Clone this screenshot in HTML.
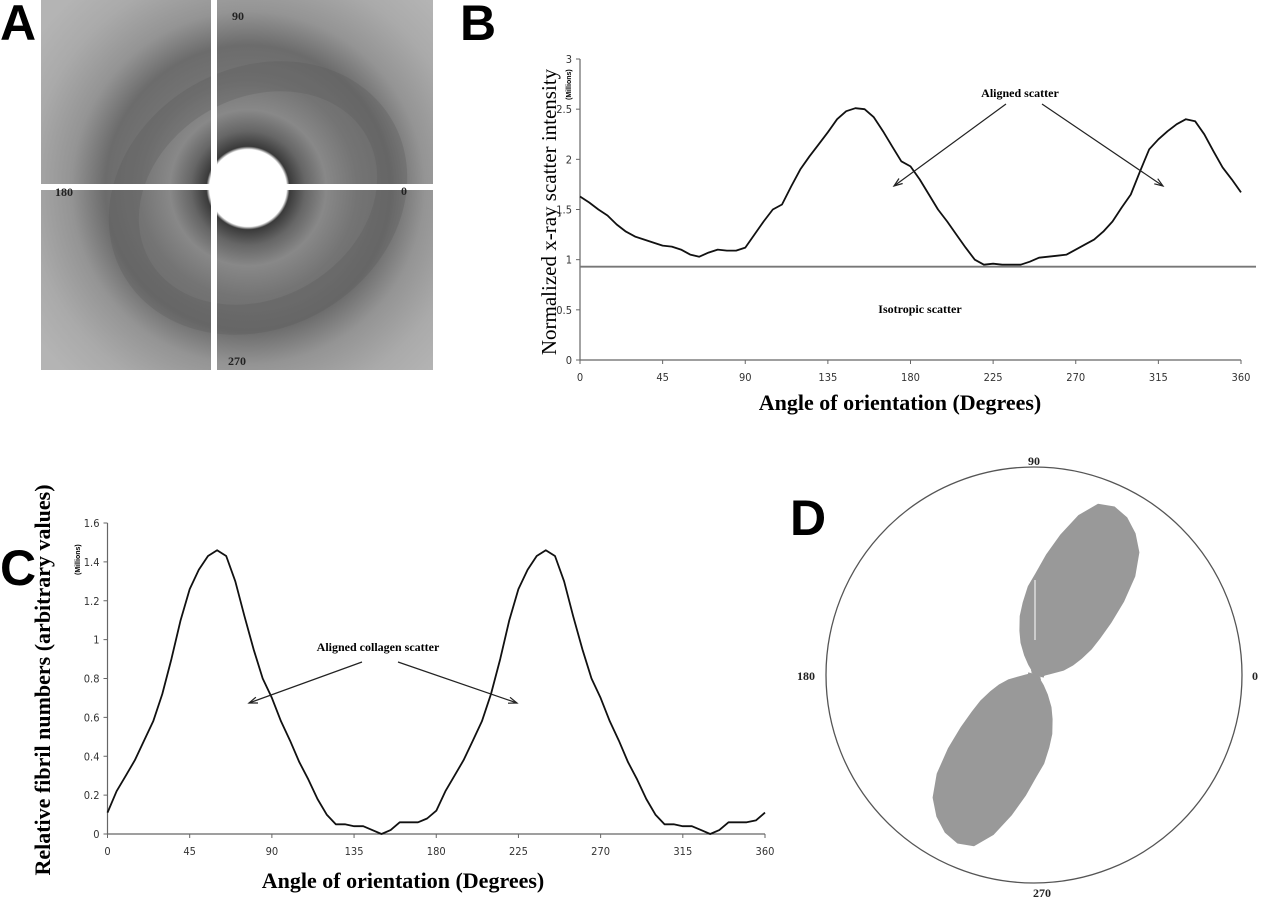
<!DOCTYPE html>
<html><head><meta charset="utf-8">
<style>
html,body{margin:0;padding:0;background:#fff;}
svg{display:block;}
.tick{font-family:"DejaVu Sans Condensed","Liberation Sans",sans-serif;font-size:11px;fill:#333;}
.serif{font-family:"Liberation Serif",serif;}
.letter{font-family:"Liberation Sans",sans-serif;font-weight:bold;font-size:50px;fill:#000;}
</style></head>
<body>
<svg id="fig" width="1270" height="900" viewBox="0 0 1270 900" xmlns="http://www.w3.org/2000/svg">
<defs>
<radialGradient id="sax" cx="248" cy="188" r="260" gradientUnits="userSpaceOnUse">
<stop offset="0" stop-color="#fff"/>
<stop offset="0.148" stop-color="#fff"/>
<stop offset="0.16" stop-color="#3a3a3a"/>
<stop offset="0.22" stop-color="#666"/>
<stop offset="0.3" stop-color="#888"/>
<stop offset="0.42" stop-color="#747474"/>
<stop offset="0.55" stop-color="#6c6c6c"/>
<stop offset="0.68" stop-color="#949494"/>
<stop offset="0.85" stop-color="#aaa"/>
<stop offset="1" stop-color="#b4b4b4"/>
</radialGradient>
<clipPath id="aclip"><rect x="41" y="0" width="392" height="370"/></clipPath>
</defs>

<!-- Panel A -->
<text class="letter" x="0" y="40">A</text>
<g clip-path="url(#aclip)">
<rect x="41" y="0" width="392" height="370" fill="url(#sax)"/>
<ellipse cx="258" cy="198" rx="140" ry="115" fill="none" stroke="#5a5a5a" stroke-opacity="0.3" stroke-width="30" transform="rotate(-30 258 198)"/>
<circle cx="248" cy="188" r="38" fill="#fff"/>
<rect x="41" y="184" width="392" height="6" fill="#fff"/>
<rect x="211" y="0" width="6" height="370" fill="#fff"/>
</g>
<g class="serif" font-size="12" font-weight="bold" fill="#222">
<text x="232" y="20">90</text>
<text x="55" y="196">180</text>
<text x="401" y="195">0</text>
<text x="228" y="365">270</text>
</g>

<!-- Panel B -->
<text class="letter" x="460" y="40">B</text>
<g id="chartB"></g>
<text class="serif" font-size="21" transform="translate(556,212) rotate(-90)" text-anchor="middle">Normalized x-ray scatter intensity</text>
<text font-family="Liberation Sans,sans-serif" font-size="7" font-weight="bold" transform="translate(571,100) rotate(-90)">(Millions)</text>
<text class="serif" font-size="22" font-weight="bold" x="900" y="410" text-anchor="middle">Angle of orientation (Degrees)</text>
<text class="serif" font-size="12" font-weight="bold" x="1020" y="97" text-anchor="middle">Aligned scatter</text>
<text class="serif" font-size="12" font-weight="bold" x="920" y="313" text-anchor="middle">Isotropic scatter</text>

<!-- Panel C -->
<text class="letter" x="0" y="585">C</text>
<g id="chartC"></g>
<text class="serif" font-size="22" font-weight="bold" transform="translate(50,680) rotate(-90)" text-anchor="middle">Relative fibril numbers (arbitrary values)</text>
<text font-family="Liberation Sans,sans-serif" font-size="7" font-weight="bold" transform="translate(80,575) rotate(-90)">(Millions)</text>
<text class="serif" font-size="22" font-weight="bold" x="403" y="888" text-anchor="middle">Angle of orientation (Degrees)</text>
<text class="serif" font-size="12" font-weight="bold" x="378" y="651" text-anchor="middle">Aligned collagen scatter</text>

<!-- Panel D -->
<text class="letter" x="790" y="535">D</text>
<g id="chartD"></g>
<g class="serif" font-size="12" font-weight="bold" fill="#222">
<text x="1034" y="465" text-anchor="middle">90</text>
<text x="797" y="680">180</text>
<text x="1252" y="680">0</text>
<text x="1042" y="897" text-anchor="middle">270</text>
</g>
</svg>
<script>
const anglesB = [0,5,10,15,20,25,30,35,40,45,50,55,60,65,70,75,80,85,90,95,100,105,110,115,120,125,130,135,140,145,150,155,160,165,170,175,180,185,190,195,200,205,210,215,220,225,230,235,240,245,250,255,260,265,270,275,280,285,290,295,300,305,310,315,320,325,330,335,340,345,350,355,360];
const intensityB = [1.63,1.57,1.50,1.44,1.35,1.28,1.23,1.20,1.17,1.14,1.13,1.10,1.05,1.03,1.07,1.10,1.09,1.09,1.12,1.25,1.38,1.50,1.55,1.73,1.90,2.03,2.15,2.27,2.40,2.48,2.51,2.50,2.42,2.28,2.13,1.98,1.93,1.80,1.65,1.50,1.38,1.25,1.12,1.00,0.95,0.96,0.95,0.95,0.95,0.98,1.02,1.03,1.04,1.05,1.10,1.15,1.20,1.28,1.38,1.52,1.65,1.88,2.10,2.20,2.28,2.35,2.40,2.38,2.25,2.08,1.92,1.80,1.67];
const isotropicLevel = 0.93;
const yTicksB = [0,0.5,1,1.5,2,2.5,3];
const yTickLabelsB = ["0","0.5","1","1.5","2","2.5","3"];
const xTicks = [0,45,90,135,180,225,270,315,360];

const anglesC = [0,5,10,15,20,25,30,35,40,45,50,55,60,65,70,75,80,85,90,95,100,105,110,115,120,125,130,135,140,145,150,155,160,165,170,175,180,185,190,195,200,205,210,215,220,225,230,235,240,245,250,255,260,265,270,275,280,285,290,295,300,305,310,315,320,325,330,335,340,345,350,355,360];
const fibrilsC = [0.11,0.22,0.30,0.38,0.48,0.58,0.72,0.90,1.10,1.26,1.36,1.43,1.46,1.43,1.30,1.12,0.95,0.80,0.70,0.58,0.48,0.37,0.28,0.18,0.10,0.05,0.05,0.04,0.04,0.02,0.00,0.02,0.06,0.06,0.06,0.08,0.12,0.22,0.30,0.38,0.48,0.58,0.72,0.90,1.10,1.26,1.36,1.43,1.46,1.43,1.30,1.12,0.95,0.80,0.70,0.58,0.48,0.37,0.28,0.18,0.10,0.05,0.05,0.04,0.04,0.02,0.00,0.02,0.06,0.06,0.06,0.07,0.11];
const yTicksC = [0,0.2,0.4,0.6,0.8,1,1.2,1.4,1.6];
const yTickLabelsC = ["0","0.2","0.4","0.6","0.8","1","1.2","1.4","1.6"];

const NS = "http://www.w3.org/2000/svg";
function mk(parent, tag, attrs){const e=document.createElementNS(NS,tag);for(const k in attrs)e.setAttribute(k,attrs[k]);parent.appendChild(e);return e;}

function drawLineChart(gid, prefix, ang, vals, yTicks, yLabels, x0, x1, yTop, yBot, yMax){
  const g=document.getElementById(gid);
  const X=a=>x0+(a/360)*(x1-x0);
  const Y=v=>yBot-(v/yMax)*(yBot-yTop);
  const ax=mk(g,'path',{d:`M${x0},${yTop}V${yBot}H${x1}`,fill:'none',stroke:'#666','stroke-width':1.2});
  
  
  yTicks.forEach((t,i)=>{
    const l=mk(g,'line',{x1:x0-4,x2:x0,y1:Y(t),y2:Y(t),stroke:'#666'});
    
    
    const tx=mk(g,'text',{x:x0-8,y:Y(t)+4,'text-anchor':'end',class:'tick'});
    tx.textContent=yLabels[i];
    
    
  });
  xTicks.forEach(t=>{
    const l=mk(g,'line',{x1:X(t),x2:X(t),y1:yBot,y2:yBot+4,stroke:'#666'});
    
    
    const tx=mk(g,'text',{x:X(t),y:yBot+21,'text-anchor':'middle',class:'tick'});
    tx.textContent=String(t);
    
    
  });
  let d='';
  ang.forEach((a,i)=>{d+=(i?'L':'M')+X(a).toFixed(1)+','+Y(vals[i]).toFixed(1);});
  const p=mk(g,'path',{d:d,fill:'none',stroke:'#111','stroke-width':1.8,'stroke-linejoin':'round'});
  
  
  return {X,Y,g};
}

function arrow(g,name,x1,y1,x2,y2){
  const l=mk(g,'line',{x1,y1,x2,y2,stroke:'#222','stroke-width':1.2});
  
  
  const ang=Math.atan2(y2-y1,x2-x1), s=9;
  const a1=ang+Math.PI-0.35, a2=ang+Math.PI+0.35;
  const h=mk(g,'path',{d:`M${x2+s*Math.cos(a1)},${y2+s*Math.sin(a1)}L${x2},${y2}L${x2+s*Math.cos(a2)},${y2+s*Math.sin(a2)}`,fill:'none',stroke:'#222','stroke-width':1.2});
  
  
}

const B=drawLineChart('chartB','b',anglesB,intensityB,yTicksB,yTickLabelsB,580,1241,59,360,3);
const iso=mk(B.g,'line',{x1:580,x2:1256,y1:B.Y(isotropicLevel),y2:B.Y(isotropicLevel),stroke:'#777','stroke-width':1.8});


arrow(B.g,'b-arrow-left',1006,104,894,186);
arrow(B.g,'b-arrow-right',1042,104,1163,186);

const C=drawLineChart('chartC','c',anglesC,fibrilsC,yTicksC,yTickLabelsC,107.5,765,523,834,1.6);
arrow(C.g,'c-arrow-left',362,662,249,703);
arrow(C.g,'c-arrow-right',398,662,517,703);

// Panel D polar
(function(){
  const g=document.getElementById('chartD');
  const cx=1036, cy=675, R=208, scale=127, rot=5;
  const circ=mk(g,'circle',{cx:1034,cy,r:R,fill:'none',stroke:'#555','stroke-width':1.3});
  
  
  let d='';
  anglesC.forEach((a,i)=>{
    const r=fibrilsC[i]*scale, t=(a+rot)*Math.PI/180;
    d+=(i?'L':'M')+(cx+r*Math.cos(t)).toFixed(1)+','+(cy-r*Math.sin(t)).toFixed(1);
  });
  const p=mk(g,'path',{d:d+'Z',fill:'#999',stroke:'#999','stroke-width':1});
  
  
  const wl=mk(g,'line',{x1:1035,y1:580,x2:1035,y2:640,stroke:'#fff','stroke-width':1});
  
  
})();
</script>
</body></html>
